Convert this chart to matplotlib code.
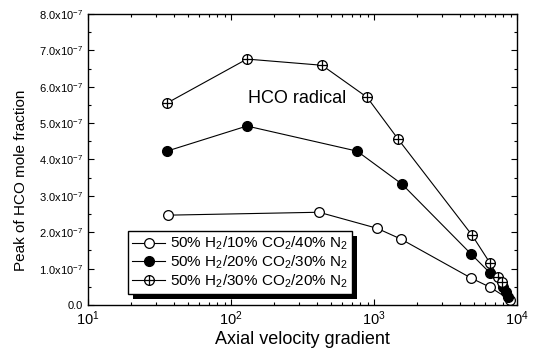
import numpy as np
import matplotlib
matplotlib.use("Agg")
import matplotlib.pyplot as plt
from matplotlib.path import Path
from matplotlib.patches import Rectangle
from matplotlib.transforms import IdentityTransform
from matplotlib.ticker import FixedLocator, FuncFormatter, LogLocator, NullFormatter, MultipleLocator

plt.rcParams['font.family'] = ['Liberation Sans', 'DejaVu Sans']
plt.rcParams['mathtext.default'] = 'regular'

# peak HCO mole fraction vs axial velocity gradient
x_co2_10 = [36.4, 412, 1047, 1545, 4770, 6470, 8930]
y_co2_10 = [2.47e-7, 2.55e-7, 2.11e-7, 1.81e-7, 0.74e-7, 0.49e-7, 0.14e-7]

x_co2_20 = [35.6, 129, 760, 1570, 4770, 6470, 7980, 8370, 8700]
y_co2_20 = [4.23e-7, 4.92e-7, 4.23e-7, 3.32e-7, 1.40e-7, 0.88e-7, 0.49e-7, 0.35e-7, 0.22e-7]

x_co2_30 = [35.6, 129, 432, 893, 1472, 4840, 6470, 7360, 7850]
y_co2_30 = [5.55e-7, 6.76e-7, 6.59e-7, 5.71e-7, 4.56e-7, 1.92e-7, 1.15e-7, 0.77e-7, 0.63e-7]

labels = ['50% H$_2$/10% CO$_2$/40% N$_2$',
          '50% H$_2$/20% CO$_2$/30% N$_2$',
          '50% H$_2$/30% CO$_2$/20% N$_2$']

# circle with a cross inside
circ = Path.unit_circle()
cross = Path([(-1, 0), (1, 0), (0, -1), (0, 1)],
             [Path.MOVETO, Path.LINETO, Path.MOVETO, Path.LINETO])
oplus = Path.make_compound_path(circ, cross)

fig = plt.figure(figsize=(5.37, 3.49), dpi=100)
ax = fig.add_axes([0.164, 0.126, 0.799, 0.834])

ax.plot(x_co2_10, y_co2_10, '-o', color='black', lw=0.8, ms=7,
        markerfacecolor='white', markeredgewidth=0.9, label=labels[0])
ax.plot(x_co2_20, y_co2_20, '-o', color='black', lw=0.8, ms=7,
        markerfacecolor='black', label=labels[1])
ax.plot(x_co2_30, y_co2_30, '-', color='black', lw=0.8, marker=oplus, ms=7,
        markerfacecolor='white', markeredgewidth=0.9, label=labels[2])

ax.set_xscale('log')
ax.set_xlim(10, 1e4)
ax.set_ylim(0, 8e-7)

ax.xaxis.set_major_locator(FixedLocator([10, 100, 1000, 10000]))
ax.xaxis.set_major_formatter(FuncFormatter(lambda v, p: '10$^{%d}$' % round(np.log10(v))))
ax.xaxis.set_minor_locator(LogLocator(base=10, subs=np.arange(2, 10)))
ax.xaxis.set_minor_formatter(NullFormatter())

ax.yaxis.set_major_locator(MultipleLocator(1e-7))
ax.yaxis.set_minor_locator(MultipleLocator(0.5e-7))

def yfmt(v, p):
    if abs(v) < 1e-12:
        return '0.0'
    return '%.1fx10$^{-7}$' % (v / 1e-7)

ax.yaxis.set_major_formatter(FuncFormatter(yfmt))

ax.tick_params(which='both', direction='in', top=True, right=True, width=0.8)
ax.tick_params(which='major', length=4, labelsize=8)
ax.tick_params(which='minor', length=2)
ax.tick_params(axis='x', labelsize=10.5)
for s in ax.spines.values():
    s.set_linewidth(1.0)

ax.set_xlabel('Axial velocity gradient', fontsize=13, labelpad=2)
ax.set_ylabel('Peak of HCO mole fraction', fontsize=11)
ax.yaxis.set_label_coords(-0.14, 0.43)

ax.text(131, 5.69e-7, 'HCO radical', fontsize=13, va='center')

leg = ax.legend(loc='lower left', bbox_to_anchor=(0.093, 0.038), fontsize=11,
                frameon=True, fancybox=False, edgecolor='black',
                handlelength=2.2, handletextpad=0.3, borderpad=0.25,
                labelspacing=0.1, borderaxespad=0)
leg.get_frame().set_linewidth(1.0)
leg.get_frame().set_alpha(1.0)

# heavy drop shadow behind the legend box
fig.canvas.draw()
bb = leg.get_window_extent()
ax.add_patch(Rectangle((bb.x0 + 5, bb.y0 - 5), bb.width, bb.height,
                       transform=IdentityTransform(), facecolor='black',
                       edgecolor='none', zorder=4.9, clip_on=False))

fig.savefig('out.png', dpi=100)
